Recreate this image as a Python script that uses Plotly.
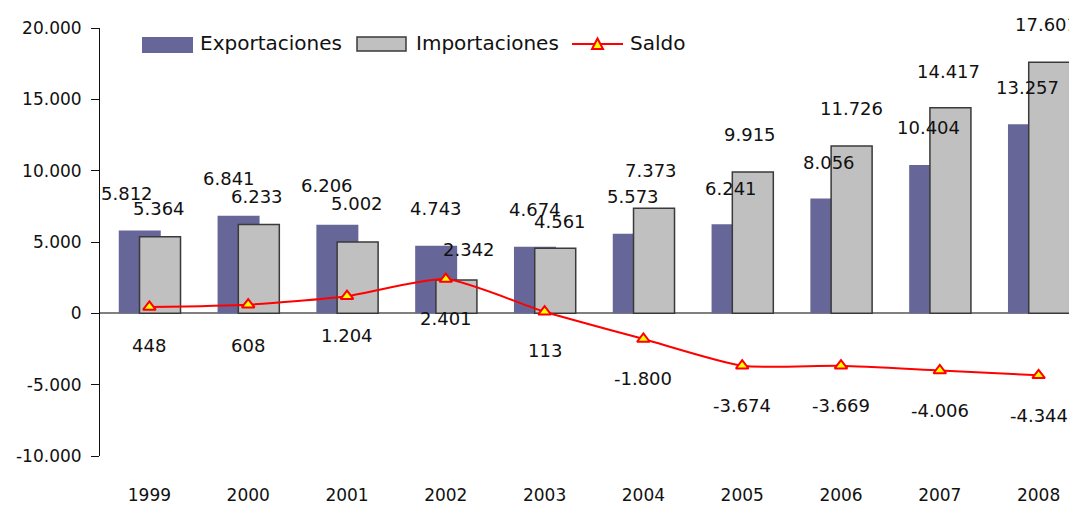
import numpy as np
import plotly.graph_objects as go

# data
years = ['1999', '2000', '2001', '2002', '2003', '2004', '2005', '2006', '2007', '2008']
exportaciones = [5812, 6841, 6206, 4743, 4674, 5573, 6241, 8056, 10404, 13257]
importaciones = [5364, 6233, 5002, 2342, 4561, 7373, 9915, 11726, 14417, 17601]
saldo = [448, 608, 1204, 2401, 113, -1800, -3674, -3669, -4006, -4344]
y_ticks = [-10000, -5000, 0, 5000, 10000, 15000, 20000]

# label nudges (pixels), as placed in the original
exp_dx = [-22, -19, -20, -10, -10, -10, -11, -12, -11, -11]
exp_dy = [37, 37, 39, 37, 37, 37, 36, 36, 37, 37]
imp_dx = [10, 9, 10, 23, 15, 8, 8, 10, 9, 8]
imp_dy = [28, 28, 38, 30, 27, 38, 37, 38, 36, 38]
sal_dy = [-39, -41, -39, -39, -39, -39, -40, -40, -40, -40]

COL_EXP = '#666699'
COL_IMP = '#C0C0C0'
FONT = 'DejaVu Sans'
FS_LABEL = 18
FS_TICK = 17
FS_LEGEND = 20

# page body has an 8px margin, so the figure is shifted by that much
OFF = 8
W, H = 1077 - OFF, 506 - OFF
ML, MR, MT, MB = 100 - OFF, 0, 28 - OFF, 50
PW, PH = W - ML - MR, H - MT - MB


def fmt(v):
    return f"{v:,}".replace(',', '.')


def px(x, y):
    # screen pixel -> paper coords
    return (x - OFF - ML) / PW, (H - MB - (y - OFF)) / PH


fig = go.Figure()

fig.add_trace(go.Bar(
    x=years, y=exportaciones, name='Exportaciones',
    marker=dict(color=COL_EXP, line=dict(width=0)),
    offset=-0.31, width=0.425,
))
fig.add_trace(go.Bar(
    x=years, y=importaciones, name='Importaciones',
    marker=dict(color=COL_IMP, line=dict(color='#3a3a3a', width=1.5)),
    offset=-0.10, width=0.415,
))
fig.add_trace(go.Scatter(
    x=years, y=saldo, name='Saldo', mode='lines+markers',
    line=dict(color='#FF0000', width=2, shape='spline', smoothing=0.6),
    marker=dict(symbol='triangle-up', size=11, color='#FFFF00',
                line=dict(color='#FF0000', width=2)),
))

annotations = []
lab_font = dict(size=FS_LABEL)
for i, yr in enumerate(years):
    # category axis: annotation x is the category index
    annotations.append(dict(x=i, y=exportaciones[i], text=fmt(exportaciones[i]), font=lab_font,
                            xshift=exp_dx[i], yshift=exp_dy[i], showarrow=False))
    annotations.append(dict(x=i, y=importaciones[i], text=fmt(importaciones[i]), font=lab_font,
                            xshift=imp_dx[i], yshift=imp_dy[i], showarrow=False))
    annotations.append(dict(x=i, y=saldo[i], text=fmt(saldo[i]), font=lab_font,
                            yshift=sal_dy[i], showarrow=False))

# hand-drawn legend
shapes = []
x0, y0 = px(142, 37); x1, y1 = px(193, 53)
shapes.append(dict(type='rect', xref='paper', yref='paper', x0=x0, y0=y0, x1=x1, y1=y1,
                   fillcolor=COL_EXP, line=dict(width=0)))
x0, y0 = px(357, 37); x1, y1 = px(406, 51)
shapes.append(dict(type='rect', xref='paper', yref='paper', x0=x0, y0=y0, x1=x1, y1=y1,
                   fillcolor=COL_IMP, line=dict(color='#3a3a3a', width=1.5)))
x0, yl = px(572, 44); x1, _ = px(623, 44)
shapes.append(dict(type='line', xref='paper', yref='paper', x0=x0, y0=yl, x1=x1, y1=yl,
                   line=dict(color='#FF0000', width=2)))
ta, tb = px(592, 49), px(603, 49)
tc = px(597.5, 38.5)
shapes.append(dict(type='path', xref='paper', yref='paper',
                   path=f"M {ta[0]},{ta[1]} L {tb[0]},{tb[1]} L {tc[0]},{tc[1]} Z",
                   fillcolor='#FFFF00', line=dict(color='#FF0000', width=2)))

for label, lx in [('Exportaciones', 198), ('Importaciones', 414), ('Saldo', 628)]:
    ax, ay = px(lx, 43)
    annotations.append(dict(xref='paper', yref='paper', x=ax, y=ay, text=label,
                            font=dict(size=FS_LEGEND),
                            xanchor='left', yanchor='middle', showarrow=False))

xr = [-0.5, -0.5 + PW / 98.8]

fig.update_layout(
    width=W, height=H,
    margin=dict(l=ML, r=MR, t=MT, b=MB),
    plot_bgcolor='white', paper_bgcolor='white',
    barmode='overlay',
    showlegend=False,
    separators=',.',
    font=dict(family=FONT, size=FS_TICK, color='#111111'),
    annotations=annotations,
    shapes=shapes,
    xaxis=dict(
        type='category', range=xr,
        showline=False, showgrid=False, ticks='',
        ticklabelstandoff=27,
    ),
    xaxis2=dict(
        overlaying='x', anchor='free', position=1 / 3,
        range=xr,
        tickmode='array', tickvals=list(np.arange(-0.5, 10, 1.0)),
        ticks='outside', ticklen=8, tickcolor='#111111',
        showticklabels=False, showline=False, showgrid=False, zeroline=False,
    ),
    yaxis=dict(
        range=[-10000, 20000], tickvals=y_ticks,
        ticktext=[fmt(v) for v in y_ticks],
        showline=True, linecolor='#111111', linewidth=1,
        ticks='outside', ticklen=8, tickcolor='#111111',
        ticklabelstandoff=6,
        showgrid=False,
        zeroline=True, zerolinecolor='#808080', zerolinewidth=1.5,
    ),
)

fig.write_html("out.html")
